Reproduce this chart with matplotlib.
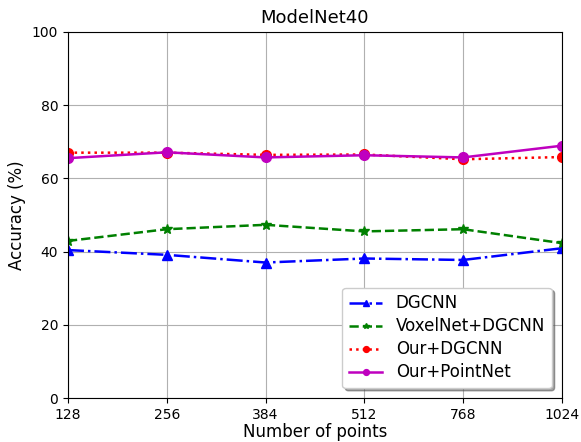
import matplotlib
matplotlib.use("Agg")
import matplotlib.pyplot as plt

points = ["128", "256", "384", "512", "768", "1024"]
dgcnn = [40.4, 39.1, 37.0, 38.1, 37.7, 40.9]
voxelnet_dgcnn = [42.9, 46.1, 47.3, 45.5, 46.1, 42.3]
our_dgcnn = [67.0, 67.0, 66.4, 66.5, 65.2, 65.8]
our_pointnet = [65.5, 67.1, 65.7, 66.3, 65.7, 68.9]

fig = plt.figure(figsize=(5.81, 4.42), dpi=100)
ax = fig.add_axes([0.117, 0.0995, 0.85, 0.8285])
x = list(range(len(points)))
lw = 1.8
ax.plot(x, dgcnn, color="b", linestyle="-.", marker="^", linewidth=lw, markersize=7, label="DGCNN")
ax.plot(x, voxelnet_dgcnn, color="g", linestyle="--", marker="*", linewidth=lw, markersize=7, label="VoxelNet+DGCNN")
ax.plot(x, our_dgcnn, color="r", linestyle=":", marker="o", linewidth=lw, markersize=7, label="Our+DGCNN")
ax.plot(x, our_pointnet, color="m", linestyle="-", marker="o", linewidth=lw, markersize=7, label="Our+PointNet")
ax.set_xticks(x)
ax.set_xticklabels(points)
ax.set_xlim(0, len(points) - 1)
ax.set_ylim(0, 100)
ax.set_yticks([0, 20, 40, 60, 80, 100])
ax.grid(True)
ax.set_xlabel("Number of points", fontsize=12, labelpad=1)
ax.set_ylabel("Accuracy (%)", fontsize=12)
ax.set_title("ModelNet40", fontsize=13)
ax.legend(loc="lower right", shadow=True, fontsize=12, markerscale=0.6,
          labelspacing=0.3, borderaxespad=0.6)
fig.savefig("out.png", dpi=100)
